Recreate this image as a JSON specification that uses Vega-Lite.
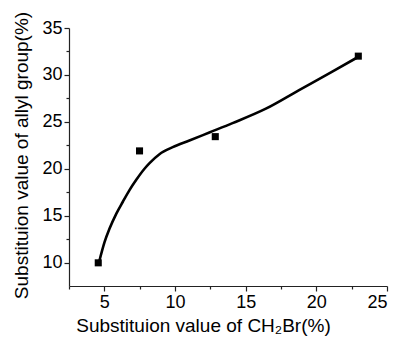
{
  "$schema": "https://vega.github.io/schema/vega-lite/v6.json",
  "autosize": "none",
  "width": 318,
  "height": 258,
  "padding": {"left": 69, "top": 28, "right": 14, "bottom": 54},
  "background": "white",
  "config": {
    "view": {"stroke": null},
    "font": "Liberation Sans",
    "axis": {
      "grid": false,
      "domainColor": "#222222",
      "domainWidth": 1.2,
      "tickColor": "#222222",
      "tickWidth": 1.2,
      "labelColor": "black",
      "titleColor": "black",
      "labelFont": "Liberation Sans",
      "titleFont": "Liberation Sans",
      "labelFontSize": 18,
      "titleFontSize": 19,
      "titleFontWeight": "normal"
    }
  },
  "datasets": {
    "points": [
      {"x": 4.57, "y": 9.97},
      {"x": 7.49, "y": 21.9},
      {"x": 12.85, "y": 23.42},
      {"x": 22.97, "y": 32.0}
    ],
    "curve": [
      {"x": 4.62, "y": 10.0},
      {"x": 5.02, "y": 12.2},
      {"x": 5.37, "y": 13.62},
      {"x": 5.85, "y": 15.22},
      {"x": 6.31, "y": 16.48},
      {"x": 6.78, "y": 17.72},
      {"x": 7.26, "y": 18.82},
      {"x": 7.84, "y": 20.0},
      {"x": 8.2, "y": 20.6},
      {"x": 8.9, "y": 21.55},
      {"x": 9.84, "y": 22.3},
      {"x": 11.02, "y": 23.0},
      {"x": 12.43, "y": 23.86},
      {"x": 14.07, "y": 24.86},
      {"x": 16.43, "y": 26.4},
      {"x": 18.78, "y": 28.38},
      {"x": 21.13, "y": 30.35},
      {"x": 23.0, "y": 31.95}
    ]
  },
  "encoding": {
    "x": {
      "field": "x",
      "type": "quantitative",
      "scale": {"domain": [2.5, 25], "nice": false, "zero": false},
      "axis": {
        "title": "Substituion value of CH₂Br(%)",
        "values": [2.5, 5, 7.5, 10, 12.5, 15, 17.5, 20, 22.5, 25],
        "labelExpr": "datum.value % 5 === 0 ? datum.label : ''",
        "tickSize": {"condition": {"test": "datum.value % 5 === 0", "value": 5}, "value": 3},
        "labelPadding": 2,
        "titleX": 134,
        "titleY": 45,
        "titleAlign": "center",
        "titleBaseline": "alphabetic"
      }
    },
    "y": {
      "field": "y",
      "type": "quantitative",
      "scale": {"domain": [7.5, 35], "nice": false, "zero": false},
      "axis": {
        "title": "Substituion value of allyl group(%)",
        "values": [10, 12.5, 15, 17.5, 20, 22.5, 25, 27.5, 30, 32.5, 35],
        "labelExpr": "datum.value % 5 === 0 ? datum.label : ''",
        "tickSize": {"condition": {"test": "datum.value % 5 === 0", "value": 5}, "value": 3},
        "labelPadding": 2,
        "titleX": -42,
        "titleY": 127,
        "titleAngle": -90,
        "titleAlign": "center",
        "titleBaseline": "alphabetic"
      }
    }
  },
  "layer": [
    {
      "data": {"name": "curve"},
      "mark": {"type": "line", "color": "black", "strokeWidth": 2.6, "interpolate": "monotone"}
    },
    {
      "data": {"name": "points"},
      "mark": {"type": "point", "shape": "square", "filled": true, "color": "black", "opacity": 1, "size": 50}
    }
  ]
}
